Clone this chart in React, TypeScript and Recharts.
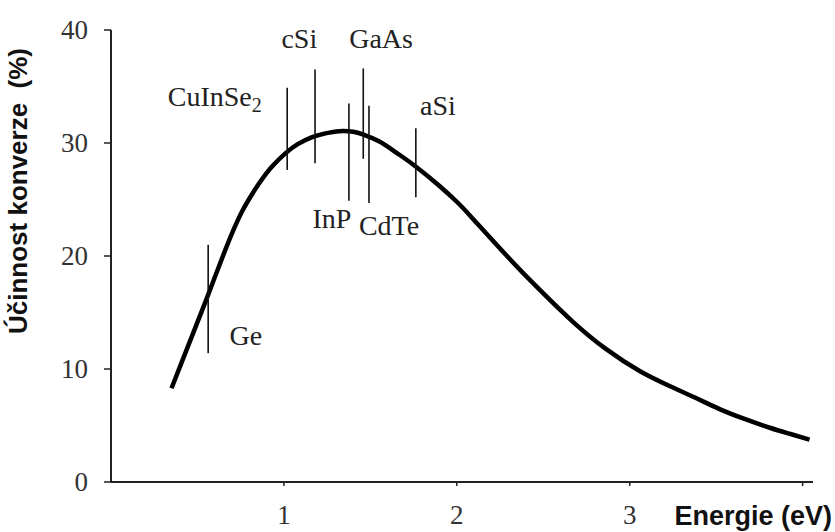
import React from 'react';
import { LineChart, Line, XAxis, YAxis, ReferenceLine, ReferenceDot } from 'recharts';

// Curve: conversion efficiency (%) vs band-gap energy (eV)
const energy = [0.35, 0.45, 0.55, 0.66, 0.76, 0.86, 0.93, 1.01, 1.08, 1.16, 1.24, 1.32, 1.4, 1.46, 1.55, 1.65, 1.76, 1.9, 2.0, 2.09, 2.29, 2.48, 2.67, 2.86, 3.06, 3.23, 3.38, 3.52, 3.66, 3.81, 3.93, 4.04];
const efficiency = [8.3, 12.2, 16.1, 20.5, 24.0, 26.5, 27.9, 29.1, 29.9, 30.5, 30.85, 31.05, 31.0, 30.75, 30.15, 29.15, 27.95, 26.2, 24.8, 23.35, 20.0, 17.0, 14.2, 11.8, 9.8, 8.5, 7.45, 6.45, 5.6, 4.8, 4.25, 3.75];

// Materials marked on the curve
const materialNames = ['Ge', 'CuInSe', 'cSi', 'InP', 'GaAs', 'CdTe', 'aSi'];
const materialSubs = ['', '2', '', '', '', '', ''];
const bandGaps = [0.562, 1.019, 1.18, 1.376, 1.459, 1.492, 1.763];
const markLow = [11.4, 27.6, 28.2, 24.9, 28.6, 24.7, 25.2];
const markHigh = [21.0, 34.9, 36.5, 33.5, 36.6, 33.3, 31.3];
const labelX = [0.78, 0.6, 1.089, 1.278, 1.562, 1.608, 1.891];
const labelY = [12.1, 33.3, 38.4, 22.5, 38.4, 21.9, 32.5];

const xTicks = [1, 2, 3, 4];
const xTickLabels = ['1', '2', '3', ''];
const yTicks = [0, 10, 20, 30, 40];

const data = energy.map((e, i) => ({ x: e, y: efficiency[i] }));

const SERIF = '"Liberation Serif", "Times New Roman", serif';
const SANS = '"Liberation Sans", Arial, sans-serif';
const AXIS = '#222';

const YTick = (props: any) => {
  const { x, y, payload } = props;
  return (
    <text x={x} y={y} textAnchor="end" dominantBaseline="central" fontFamily={SERIF} fontSize={27} fill="#333">
      {payload.value}
    </text>
  );
};

const XTick = (props: any) => {
  const { x, y, payload } = props;
  const idx = xTicks.indexOf(payload.value);
  return (
    <text x={x} y={y + 36} textAnchor="middle" fontFamily={SERIF} fontSize={27} fill="#333">
      {idx >= 0 ? xTickLabels[idx] : ''}
    </text>
  );
};

const makeLabelShape = (name: string, sub: string) => (p: any) => (
  <text x={p.cx} y={p.cy} textAnchor="middle" fontFamily={SERIF} fontSize={28} fill="#222">
    {name}
    {sub ? (
      <tspan fontSize={20} dy={6}>
        {sub}
      </tspan>
    ) : null}
  </text>
);

export default function App() {
  return (
    <div style={{ position: 'absolute', left: 0, top: 0, width: 835, height: 532, background: '#fff' }}>
      <LineChart width={835} height={532} data={data} margin={{ top: 30, right: 22, bottom: 0, left: 51 }}>
        <XAxis
          type="number"
          dataKey="x"
          domain={[0, 4.06]}
          ticks={xTicks}
          allowDataOverflow
          height={50}
          axisLine={{ stroke: AXIS, strokeWidth: 2 }}
          tickLine={{ stroke: AXIS, strokeWidth: 1.5 }}
          tickSize={4}
          tickMargin={2}
          tick={<XTick />}
          label={{
            content: (p: any) => {
              const vb = p.viewBox;
              return (
                <text
                  x={vb.x + vb.width + 19}
                  y={vb.y + 43}
                  textAnchor="end"
                  fontFamily={SANS}
                  fontWeight="bold"
                  fontSize={27}
                  fill="#111"
                >
                  Energie (eV)
                </text>
              );
            },
          }}
        />
        <YAxis
          type="number"
          domain={[0, 40]}
          ticks={yTicks}
          width={60}
          axisLine={{ stroke: AXIS, strokeWidth: 2 }}
          tickLine={{ stroke: AXIS, strokeWidth: 1.5 }}
          tickSize={7}
          tickMargin={16}
          tick={<YTick />}
          label={{
            content: (p: any) => {
              const vb = p.viewBox;
              const cx = 27;
              const cy = vb.y + 161;
              return (
                <text
                  x={cx}
                  y={cy}
                  transform={`rotate(-90, ${cx}, ${cy})`}
                  textAnchor="middle"
                  fontFamily={SANS}
                  fontWeight="bold"
                  fontSize={26}
                  fill="#111"
                  style={{ whiteSpace: 'pre' }}
                >
                  {'Účinnost konverze  (%)'}
                </text>
              );
            },
          }}
        />
        <Line
          type="natural"
          dataKey="y"
          stroke="#000"
          strokeWidth={4.5}
          dot={false}
          activeDot={false}
          isAnimationActive={false}
        />
        {bandGaps.map((g, i) => (
          <ReferenceLine
            key={'l' + i}
            segment={[
              { x: g, y: markLow[i] },
              { x: g, y: markHigh[i] },
            ]}
            stroke="#111"
            strokeWidth={1.6}
            ifOverflow="visible"
          />
        ))}
        {materialNames.map((n, i) => (
          <ReferenceDot
            key={'t' + i}
            x={labelX[i]}
            y={labelY[i]}
            r={0}
            ifOverflow="visible"
            shape={makeLabelShape(n, materialSubs[i])}
          />
        ))}
      </LineChart>
    </div>
  );
}
